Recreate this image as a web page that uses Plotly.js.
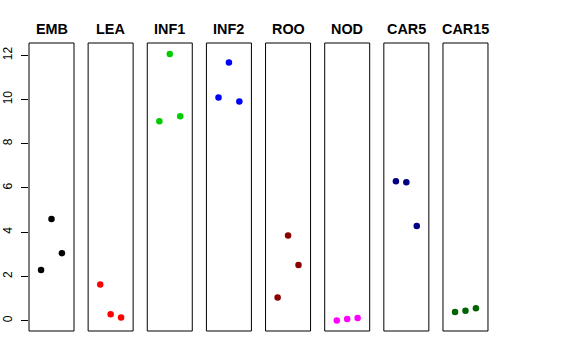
<!DOCTYPE html>
<html>
<head>
<meta charset="utf-8">
<script src="https://cdn.plot.ly/plotly-3.0.1.min.js"></script>
<style>html,body{margin:0;padding:0;background:#fff}#chart{width:576px;height:360px}</style>
</head>
<body>
<div id="chart"></div>
<script>
const panels = ["EMB", "LEA", "INF1", "INF2", "ROO", "NOD", "CAR5", "CAR15"];
const colors = ["#000000", "#FF0000", "#00CD00", "#0000FF", "#8B0000", "#FF00FF", "#000080", "#006400"];
const replicate = [1, 2, 3];
const EMB = [2.29, 4.60, 3.05];
const LEA = [1.63, 0.29, 0.14];
const INF1 = [9.02, 12.06, 9.24];
const INF2 = [10.09, 11.67, 9.91];
const ROO = [1.05, 3.85, 2.52];
const NOD = [0.01, 0.07, 0.12];
const CAR5 = [6.30, 6.26, 4.28];
const CAR15 = [0.39, 0.45, 0.56];
const yTicks = [0, 2, 4, 6, 8, 10, 12];

const values = [EMB, LEA, INF1, INF2, ROO, NOD, CAR5, CAR15];
const plotW = 459, step = 59.14, panelW = 45;
const traces = [], shapes = [], annotations = [];
const layout = {
  width: 576, height: 360,
  margin: {l: 29, r: 88, t: 43, b: 29, pad: 0},
  paper_bgcolor: "#fff", plot_bgcolor: "#fff",
  showlegend: false,
  font: {family: "Liberation Sans, Arial, Helvetica, sans-serif", color: "#000"},
  yaxis: {
    range: [-0.47, 12.555], tickvals: yTicks, ticktext: yTicks.map(String),
    ticks: "outside", ticklen: 7, tickwidth: 1, tickcolor: "#000",
    tickangle: -90, tickfont: {size: 12, color: "#000"}, ticklabelstandoff: 4,
    showgrid: false, zeroline: false, showline: false, fixedrange: true
  }
};
panels.forEach((name, i) => {
  const ax = i === 0 ? "x" : "x" + (i + 1);
  const axKey = i === 0 ? "xaxis" : "xaxis" + (i + 1);
  const d0 = i * step / plotW, d1 = (i * step + panelW) / plotW;
  layout[axKey] = {
    domain: [d0, d1], range: [-0.16, 4.16], anchor: "y",
    showgrid: false, zeroline: false, showline: false, showticklabels: false, ticks: ""
  };
  traces.push({
    type: "scatter", mode: "markers", x: replicate, y: values[i],
    xaxis: ax, yaxis: "y",
    marker: {color: colors[i], size: 6.5, line: {width: 0}},
    hoverinfo: "skip"
  });
  shapes.push({
    type: "rect", xref: ax + " domain", yref: "y domain",
    x0: 0, x1: 1, y0: 0, y1: 1, line: {color: "#000", width: 1}
  });
  annotations.push({
    text: "<b>" + name + "</b>", xref: ax + " domain", yref: "paper",
    x: 0.5, y: 1, xanchor: "center", yanchor: "middle", yshift: 14,
    showarrow: false, font: {size: 14.4, color: "#000"}
  });
});
layout.shapes = shapes;
layout.annotations = annotations;
Plotly.newPlot("chart", traces, layout, {staticPlot: true, displayModeBar: false});
</script>
</body>
</html>
